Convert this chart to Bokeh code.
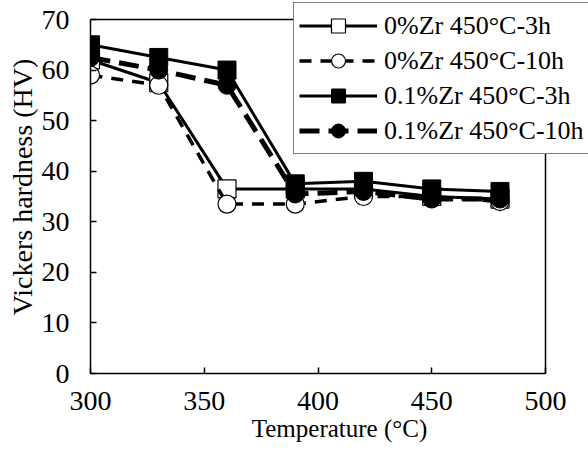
from bokeh.plotting import figure
from bokeh.models import Legend, LegendItem, FixedTicker, Title
from bokeh.embed import file_html
from bokeh.resources import INLINE

temps = [300, 330, 360, 390, 420, 450, 480]
zr0_3h = [62.0, 57.5, 36.5, 36.5, 36.5, 35.0, 34.5]
zr0_10h = [59.0, 57.0, 33.5, 33.5, 35.0, 35.0, 34.0]
zr01_3h = [65.0, 62.5, 60.0, 37.5, 38.0, 36.5, 36.0]
zr01_10h = [62.5, 60.0, 57.0, 35.5, 36.0, 34.5, 34.5]

labels = ["0%Zr 450°C-3h", "0%Zr 450°C-10h", "0.1%Zr 450°C-3h", "0.1%Zr 450°C-10h"]
x_ticks = [300, 350, 400, 450, 500]
y_ticks = [0, 10, 20, 30, 40, 50, 60, 70]
x_title = "Temperature (°C)"
y_title = "Vickers hardness (HV)"

FONT = "Liberation Serif"

x0, x1 = x_ticks[0], x_ticks[-1]
y0, y1 = y_ticks[0], y_ticks[-1]

# frame spans to canvas top/right so the legend may overhang the axes box
p = figure(width=588, height=454, x_range=(x0, 518.9), y_range=(y0, 73.76),
           output_backend="svg", toolbar_location=None,
           min_border_left=90, min_border_right=0, min_border_top=0, min_border_bottom=81)
p.background_fill_color = "white"
p.border_fill_color = "white"
p.outline_line_color = None
p.xgrid.visible = False
p.ygrid.visible = False

p.axis.axis_line_color = "black"
p.axis.axis_line_width = 1.5
p.axis.major_tick_in = 6
p.axis.major_tick_out = 0
p.axis.major_tick_line_width = 1.5
p.axis.minor_tick_line_color = None
p.axis.major_label_text_font = FONT
p.axis.major_label_text_font_size = "28px"
p.axis.major_label_text_color = "black"

p.xaxis.bounds = (x0, x1)
p.yaxis.bounds = (y0, y1)
p.xaxis.ticker = FixedTicker(ticks=x_ticks)
p.yaxis.ticker = FixedTicker(ticks=y_ticks)
p.xaxis.axis_label = x_title
p.xaxis.axis_label_text_font = FONT
p.xaxis.axis_label_text_font_style = "normal"
p.xaxis.axis_label_text_color = "black"
p.xaxis.axis_label_text_font_size = "25px"
p.xaxis.major_label_standoff = 18
p.yaxis.major_label_standoff = 21
p.xaxis.axis_label_standoff = 2

ytitle = Title(text=y_title, align="center", offset=-20, standoff=2,
               text_font=FONT, text_font_size="28px", text_font_style="normal",
               text_color="black")
p.add_layout(ytitle, "left")

# top and right sides of the axes box
p.segment(x0=[x0, x1], y0=[y1, y0], x1=[x1, x1], y1=[y1, y1],
          line_color="black", line_width=1.5)

MS = 18

l1 = p.line(temps, zr0_3h, line_color="black", line_width=3)
m1 = p.scatter(temps, zr0_3h, marker="square", size=MS, fill_color="white", line_color="black", line_width=1.2)

l2 = p.line(temps, zr0_10h, line_color="black", line_width=3.5, line_dash="12 9")
m2 = p.scatter(temps, zr0_10h, marker="circle", size=MS, fill_color="white", line_color="black", line_width=1.2)

l3 = p.line(temps, zr01_3h, line_color="black", line_width=3)
m3 = p.scatter(temps, zr01_3h, marker="square", size=MS, fill_color="black", line_color="black")

l4 = p.line(temps, zr01_10h, line_color="black", line_width=5, line_dash="20 9")
m4 = p.scatter(temps, zr01_10h, marker="circle", size=MS, fill_color="black", line_color="black")

legend = Legend(items=[
    LegendItem(label=labels[0], renderers=[l1, m1]),
    LegendItem(label=labels[1], renderers=[l2, m2]),
    LegendItem(label=labels[2], renderers=[l3, m3]),
    LegendItem(label=labels[3], renderers=[l4, m4]),
], location=(203, 219))
legend.label_text_font = FONT
legend.label_text_font_size = "26px"
legend.label_text_color = "black"
legend.glyph_width = 78
legend.glyph_height = 35
legend.label_height = 35
legend.label_standoff = 7
legend.spacing = 0
legend.padding = 5
legend.margin = 0
legend.border_line_color = "black"
legend.border_line_width = 1.5
legend.background_fill_color = "white"
legend.background_fill_alpha = 1.0
p.add_layout(legend, "center")

open("out.html", "w").write(file_html(p, INLINE))
